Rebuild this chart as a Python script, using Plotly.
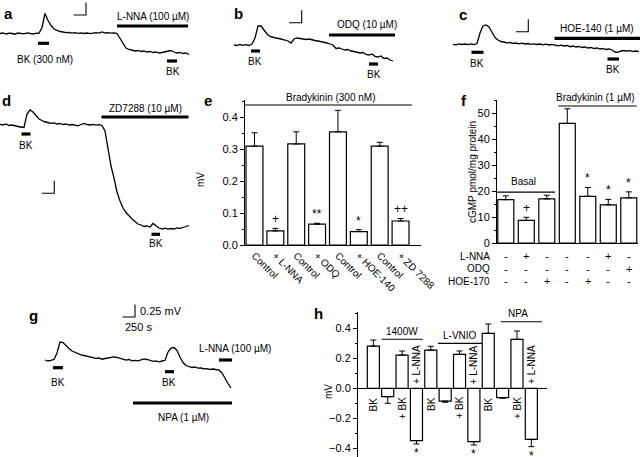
import plotly.graph_objects as go

W, H = 640, 457
FONT = "Liberation Sans, Arial, Helvetica, sans-serif"
INK = "black"

# ---------------- data ----------------
SAMPLE_S = 60      # s between trace samples
SCALE_T = 250      # s   (time scale bar)
SCALE_V = 0.25     # mV  (voltage scale bar)

# membrane-potential traces, mV relative to initial baseline
trace_a = [0, 0.01, -0.01, 0.006, 0, -0.014, 0.01, 0.004, -0.006, 0.012,
           0, -0.01, 0.008, 0.002, 0.12, 0.40, 0.26, 0.16, 0.09, 0.06,
           0.04, 0.03, 0.016, 0.024, 0.006, 0.016, 0.004, 0.012, 0, 0.01,
           -0.004, 0.008, 0.016, 0.006, 0.03, 0.01, 0.016, 0.006, 0.012, 0,
           -0.10, -0.20, -0.29, -0.32, -0.33, -0.35, -0.34, -0.36, -0.35, -0.37,
           -0.36, -0.38, -0.37, -0.39, -0.38, -0.37, -0.36, -0.34, -0.37, -0.39,
           -0.38, -0.40, -0.39, -0.42]
trace_b = [0, -0.01, 0.01, -0.006, 0.006, -0.01, 0.02, 0.14, 0.38, 0.38,
           0.30, 0.22, 0.17, 0.15, 0.14, 0.13, 0.12, 0.10, 0.08, 0.04,
           0.12, 0.14, 0.13, 0.12, 0.11, 0.12, 0.10, 0.09, 0.08, 0.07,
           0.05, 0.04, 0.02, 0, -0.07, -0.06, -0.08, -0.10, -0.09, -0.12,
           -0.13, -0.15, -0.16, -0.15, -0.19, -0.20, -0.18, -0.23, -0.24, -0.22,
           -0.27, -0.26, -0.30, -0.32]
trace_c = [0, -0.01, 0.01, -0.004, 0.006, -0.008, 0.008, -0.006, 0.016, 0.226,
           0.366, 0.386, 0.346, 0.226, 0.136, 0.086, 0.056, 0.046, 0.03, 0.036,
           0.02, 0.026, 0.01, 0.022, 0.006, 0.016, 0, 0.01, -0.004, 0.006,
           -0.01, 0.002, -0.014, -0.002, -0.018, -0.03, -0.018, -0.034, -0.024, -0.048,
           -0.034, -0.054, -0.044, -0.064, -0.054, -0.074, -0.064, -0.084, -0.074, -0.094,
           -0.084, -0.104, -0.094, -0.114, -0.154, -0.16, -0.134, -0.124, -0.134, -0.126,
           -0.144, -0.134, -0.148]
trace_d = [0, -0.014, 0.006, -0.024, -0.014, -0.034, -0.044, -0.054, -0.064, 0.206,
           0.286, 0.246, 0.166, 0.106, 0.076, 0.046, 0.036, 0.02, 0.026, 0.006,
           0.016, -0.004, 0.006, -0.014, -0.004, -0.02, -0.03, -0.004, 0.016, -0.004,
           -0.014, 0, -0.018, -0.006, -0.024, -0.134, -0.474, -0.834, -1.074, -1.354,
           -1.534, -1.674, -1.764, -1.834, -1.894, -1.944, -1.994, -2.014, -2.044, -2.034,
           -2.054, -1.984, -2.034, -2.074, -2.094, -2.078, -2.098, -2.084, -2.094, -2.07,
           -2.08, -2.054, -2.044, -2.024]
trace_g = [0, -0.02, -0.006, 0.01, 0.14, 0.36, 0.35, 0.28, 0.23, 0.18,
           0.15, 0.12, 0.104, 0.09, 0.076, 0.06, 0.05, 0.032, 0.04, 0.016,
           0.03, 0.044, 0.06, 0.064, 0.05, 0.03, 0.012, -0.004, 0.01, -0.016,
           -0.006, -0.016, 0.004, 0.024, 0.01, -0.012, -0.026, -0.016, -0.036, -0.02,
           -0.01, 0.16, 0.24, 0.25, 0.19, 0.06, -0.05, -0.11, -0.13, -0.15,
           -0.14, -0.164, -0.16, -0.176, -0.172, -0.186, -0.18, -0.196, -0.204, -0.26,
           -0.38, -0.47, -0.56]

# drug application windows (s from trace start)
a_bk = [[760, 980], [3340, 3540]]
a_lnna = [2340, 3760]
b_bk = [[340, 520], [2700, 2880]]
b_odq = [1900, 3220]
c_bk = [[370, 610], [3090, 3320]]
c_hoe = [2030, 3740]
d_bk = [[430, 610], [3030, 3200]]
d_zd = [2030, 3770]
g_bk = [[160, 360], [2400, 2580]]
g_lnna = [3480, 3740]
g_npa = [1760, 3740]

# panel e
e_labels = ["Control", "+ L-NNA", "Control", "+ ODQ", "Control", "+ HOE-140", "Control", "+ ZD 7288"]
e_values = [0.309, 0.044, 0.316, 0.065, 0.354, 0.042, 0.309, 0.075]
e_errors = [0.042, 0.008, 0.038, 0.003, 0.067, 0.006, 0.012, 0.008]
e_marks = ["", "+", "", "**", "", "*", "", "++"]

# panel f
f_values = [16.7, 8.7, 17.0, 46.1, 18.0, 14.7, 17.4]
f_errors = [1.5, 1.2, 1.4, 5.6, 3.4, 2.1, 2.3]
f_marks = ["", "+", "", "", "*", "*", "*"]
f_row_names = ["L-NNA", "ODQ", "HOE-170"]
f_lnna = ["-", "+", "-", "-", "-", "+", "-"]
f_odq = ["-", "-", "-", "-", "-", "-", "+"]
f_hoe = ["-", "-", "+", "-", "+", "-", "-"]

# panel h
h_labels = ["BK", "", "+ BK", "+ L-NNA", "BK", "", "+ BK", "+ L-NNA", "BK", "", "+ BK", "+ L-NNA"]
h_values = [0.282, -0.056, 0.222, -0.349, 0.255, -0.085, 0.227, -0.356, 0.367, -0.062, 0.327, -0.34]
h_errors = [0.04, 0.044, 0.027, 0.022, 0.025, 0.008, 0.022, 0.022, 0.062, 0.004, 0.055, 0.049]
h_marks = ["", "", "", "*", "", "", "", "*", "", "", "", "*"]
h_groups = ["1400W", "L-VNIO", "NPA"]

# ---------------- drawing ----------------
S_PER_PX = 20.0
MV_PER_PX = 0.02

fig = go.Figure()
layout = {}
ann = []


def font(size=10):
    return dict(family=FONT, size=size, color=INK)


def ptxt(s, x, y, size=10, bold=False, xa="center", ya="middle", angle=0):
    ann.append(dict(text=f"<b>{s}</b>" if bold else s, x=x / W, y=1 - y / H,
                    xref="paper", yref="paper", showarrow=False, font=font(size),
                    xanchor=xa, yanchor=ya, textangle=angle))


def dtxt(s, x, y, ax, size=10, xa="center", ya="middle", angle=0, yshift=0):
    ann.append(dict(text=s, x=x, y=y, xref="x" + ax, yref="y" + ax, showarrow=False,
                    font=font(size), xanchor=xa, yanchor=ya, textangle=angle, yshift=yshift))


def seg(xs, ys, ax, width=1.0):
    fig.add_trace(go.Scatter(x=xs, y=ys, mode="lines", line=dict(color=INK, width=width),
                             xaxis="x" + ax, yaxis="y" + ax, hoverinfo="skip", showlegend=False,
                             cliponaxis=False))


def trace_panel(n, v, box, x0, base, windows, corner):
    sfx = "" if n == 1 else str(n)
    bx0, by0, bx1, by1 = box
    tx = lambda p: (p - x0) * S_PER_PX
    vy = lambda p: (base - p) * MV_PER_PX
    layout["xaxis" + sfx] = dict(domain=[bx0 / W, bx1 / W], range=[tx(bx0), tx(bx1)],
                                 visible=False, anchor="y" + sfx)
    layout["yaxis" + sfx] = dict(domain=[1 - by1 / H, 1 - by0 / H], range=[vy(by1), vy(by0)],
                                 visible=False, anchor="x" + sfx)
    t = [i * SAMPLE_S for i in range(len(v))]
    seg(t, v, sfx, 1.3)
    for win, level in windows:
        seg(win, [vy(level)] * 2, sfx, 3.2)
    tc, vc = tx(corner[0]), vy(corner[1])
    seg([tc - SCALE_T, tc, tc], [vc, vc, vc + SCALE_V], sfx, 1.1)


# a
trace_panel(1, trace_a, (0, 0, 192, 85), 0, 33.5,
            [(a_bk[0], 43.3), (a_bk[1], 61), (a_lnna, 26)], (86, 15))
ptxt("a", 8, 13, 15, True)
ptxt("BK (300 nM)", 45, 59)
ptxt("L-NNA (100 µM)", 153, 16)
ptxt("BK", 173, 71)
# b
trace_panel(2, trace_b, (232, 0, 398, 85), 234, 45,
            [(b_bk[0], 51), (b_bk[1], 64), (b_odq, 35)], (301.7, 22.7))
ptxt("b", 238, 14, 15, True)
ptxt("ODQ (10 µM)", 367, 25)
ptxt("BK", 255, 62)
ptxt("BK", 374, 74)
# c
trace_panel(3, trace_c, (450, 0, 640, 85), 453, 44.3,
            [(c_bk[0], 52.3), (c_bk[1], 59), (c_hoe, 38.3)], (528.3, 31.7))
ptxt("c", 463, 15, 15, True)
ptxt("HOE-140 (1 µM)", 597, 28.5)
ptxt("BK", 477, 63)
ptxt("BK", 613, 69.5)
# d
trace_panel(4, trace_d, (0, 88, 192, 260), 0, 124.3,
            [(d_bk[0], 134), (d_bk[1], 234.3), (d_zd, 117)], (54.3, 193.3))
ptxt("d", 6, 100, 15, True)
ptxt("ZD7288 (10 µM)", 145, 108.5)
ptxt("BK", 26, 145)
ptxt("BK", 156, 243.5)
# g
trace_panel(5, trace_g, (40, 295, 240, 430), 45, 360,
            [(g_bk[0], 367.7), (g_bk[1], 371.7), (g_lnna, 360), (g_npa, 403)], (135, 317))
ptxt("g", 33, 315, 15, True)
ptxt("0.25 mV", 137.5, 311, 11, xa="left")
ptxt("250 s", 123, 326.5, 11, xa="left")
ptxt("BK", 58, 382)
ptxt("BK", 169, 382)
ptxt("L-NNA (100 µM)", 235, 348)
ptxt("NPA (1 µM)", 183, 417)

axis_common = dict(showline=True, linecolor=INK, linewidth=1, showgrid=False, zeroline=False,
                   ticks="outside", ticklen=4, tickwidth=1, tickcolor=INK, tickfont=font(11))
bar_style = dict(color="white", line=dict(color=INK, width=1.2))

# e
fig.add_trace(go.Bar(x=list(range(len(e_values))), y=e_values, width=0.81, marker=bar_style,
                     error_y=dict(type="data", symmetric=False, array=e_errors,
                                  arrayminus=[0] * len(e_values), color=INK, thickness=1, width=3),
                     xaxis="x6", yaxis="y6", showlegend=False, hoverinfo="skip"))
layout["xaxis6"] = dict(axis_common, domain=[245 / W, 421 / W], range=[-0.455, 7.98], anchor="y6",
                        ticks="", tickvals=list(range(len(e_labels))), ticktext=e_labels,
                        tickangle=45, tickfont=font(10))
layout["yaxis6"] = dict(axis_common, domain=[1 - 245 / H, 1 - 100 / H], range=[0, 0.4534], anchor="x6",
                        dtick=0.1, tick0=0, tickformat=".1f",
                        minor=dict(dtick=0.05, ticks="outside", ticklen=2, tickcolor=INK))
for i, m in enumerate(e_marks):
    if m:
        dtxt(m, i, e_values[i] + e_errors[i], "6", 12, ya="bottom")
seg([-0.455, 7.55], [0.4377, 0.4377], "6", 1.1)
ptxt("Bradykinin (300 nM)", 330, 97.7)
ptxt("e", 208, 100, 15, True)
ptxt("mV", 200, 180, 10, angle=-90)

# f
fig.add_trace(go.Bar(x=list(range(len(f_values))), y=f_values, width=0.78, marker=bar_style,
                     error_y=dict(type="data", symmetric=False, array=f_errors,
                                  arrayminus=[0] * len(f_values), color=INK, thickness=1, width=3),
                     xaxis="x7", yaxis="y7", showlegend=False, hoverinfo="skip"))
layout["xaxis7"] = dict(axis_common, domain=[497 / W, 638 / W], range=[-0.43, 6.45], anchor="y7",
                        ticks="", showticklabels=False)
layout["yaxis7"] = dict(axis_common, domain=[1 - 243 / H, 1 - 100 / H], range=[0, 55.1], anchor="x7",
                        dtick=10, tick0=0,
                        minor=dict(dtick=5, ticks="outside", ticklen=2, tickcolor=INK))
for i, m in enumerate(f_marks):
    if m:
        dtxt(m, i, f_values[i] + f_errors[i], "7", 12, ya="bottom")
seg([-0.43, 2.4], [19.6, 19.6], "7", 1.1)
dtxt("Basal", 0.85, 23.6, "7", 10)
seg([2.56, 6.39], [52.8, 52.8], "7", 1.1)
ptxt("Bradykinin (1 µM)", 595, 97.3)
ptxt("f", 464, 100, 15, True)
ptxt("cGMP pmol/mg protein", 472, 172, 10, angle=-90)
for name, row, ry in zip(f_row_names, [f_lnna, f_odq, f_hoe], [256, 268.5, 281]):
    ptxt(name, 492, ry, 10, xa="right")
    for i, s in enumerate(row):
        ann.append(dict(text=s, x=i, y=1 - ry / H, xref="x7", yref="paper", showarrow=False,
                        font=font(11), xanchor="center", yanchor="middle"))

# h
fig.add_trace(go.Bar(x=list(range(len(h_values))), y=h_values, width=0.84, marker=bar_style,
                     error_y=dict(type="data", symmetric=False,
                                  array=[e if v > 0 else 0 for v, e in zip(h_values, h_errors)],
                                  arrayminus=[e if v < 0 else 0 for v, e in zip(h_values, h_errors)],
                                  color=INK, thickness=1, width=3),
                     xaxis="x8", yaxis="y8", showlegend=False, hoverinfo="skip"))
layout["xaxis8"] = dict(domain=[358 / W, 546.7 / W], range=[-1.07, 12.07], anchor="y8", visible=False)
layout["yaxis8"] = dict(axis_common, domain=[0, 1 - 311.7 / H], range=[-0.458, 0.511], anchor="x8",
                        dtick=0.2, tick0=0, tickformat=".1f", zeroline=True, zerolinecolor=INK,
                        zerolinewidth=1,
                        minor=dict(dtick=0.1, ticks="outside", ticklen=2, tickcolor=INK))
for i, (lab, v) in enumerate(zip(h_labels, h_values)):
    if lab:
        if v > 0:
            dtxt(lab, i, -0.045, "8", 10, ya="top", angle=-90)
        else:
            dtxt(lab, i, 0.015, "8", 10, ya="bottom", angle=-90)
for i, m in enumerate(h_marks):
    if m:
        dtxt(m, i, h_values[i] - h_errors[i], "8", 12, ya="top", yshift=0)
grp_lines = [(0.58, 3.44, 0.327, 2.0, 0.377), (4.5, 7.55, 0.30, 6.04, 0.349),
             (8.87, 11.73, 0.444, 10.08, 0.496)]
for name, (l0, l1, ly, tx_, ty_) in zip(h_groups, grp_lines):
    seg([l0, l1], [ly, ly], "8", 1.1)
    dtxt(name, tx_, ty_, "8", 10)
ptxt("h", 318, 313, 15, True)
ptxt("mV", 328, 392, 10, angle=-90)

fig.update_layout(width=W, height=H, autosize=False, margin=dict(l=0, r=0, t=0, b=0, pad=0),
                  paper_bgcolor="white", plot_bgcolor="rgba(0,0,0,0)", template="none",
                  showlegend=False, bargap=0, annotations=ann, font=font(10), **layout)
fig.write_html("out.html", config={"displayModeBar": False, "staticPlot": True},
               post_script="document.body.style.margin='0px';document.body.style.padding='0px';")
